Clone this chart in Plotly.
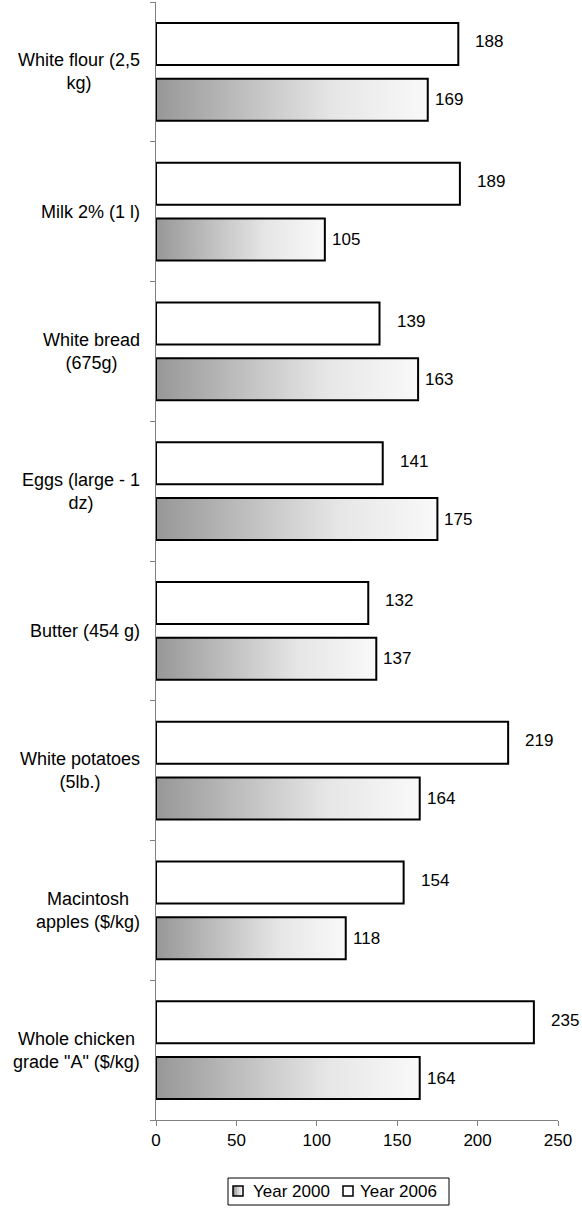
import plotly.graph_objects as go

# Retail food prices, 2000 vs 2006
categories = [
    "White flour (2,5<br>kg)",
    "Milk 2% (1 l)",
    "White bread<br>(675g)",
    "Eggs (large - 1<br>dz)",
    "Butter (454 g)",
    "White potatoes<br>(5lb.)",
    "Macintosh<br>apples ($/kg)",
    'Whole chicken<br>grade "A" ($/kg)',
]
year_2000 = [169, 105, 163, 175, 137, 164, 118, 164]
year_2006 = [188, 189, 139, 141, 132, 219, 154, 235]
x_ticks = [0, 50, 100, 150, 200, 250]
series_names = ["Year 2000", "Year 2006"]

W, H = 582, 1220
M_L, M_R, M_T, M_B = 156, 24, 2, 100
FONT = "Liberation Sans, Arial, sans-serif"
FS = 17
FS_CAT = 18
BAR_W = 0.3
OFFSET = 0.2
AXIS_COL = "#808080"
GRAD = [[0.0, "#979797"], [0.4, "#c8c8c8"], [0.65, "#e6e6e6"], [1.0, "#f9f9f9"]]

n = len(categories)
pos = list(range(n))

fig = go.Figure()

# 2006 bars: plain white with black outline
fig.add_trace(go.Bar(
    name=series_names[1], x=year_2006, y=[p - OFFSET for p in pos],
    orientation="h", width=BAR_W,
    marker=dict(color="white", line=dict(color="black", width=2)),
    showlegend=False,
))

# 2000 bars: closed rectangles with a left-to-right grey gradient,
# one trace per bar so the gradient spans each bar's own length
for i, v in zip(pos, year_2000):
    y0, y1 = i + OFFSET - BAR_W / 2, i + OFFSET + BAR_W / 2
    fig.add_trace(go.Scatter(
        name=series_names[0],
        x=[0, v, v, 0, 0], y=[y0, y0, y1, y1, y0],
        fill="toself", mode="lines",
        line=dict(color="black", width=2),
        fillgradient=dict(type="horizontal", colorscale=GRAD),
        hoverinfo="skip", showlegend=False,
    ))

annotations = []
# category labels, lines centred, block right-aligned next to the axis
for i, c in zip(pos, categories):
    annotations.append(dict(
        x=0, xref="paper", xanchor="right", xshift=-14,
        y=i, yref="y", yanchor="middle",
        text=c, align="center", showarrow=False,
        font=dict(family=FONT, size=FS_CAT, color="black"),
    ))
# value labels
for i, v in zip(pos, year_2006):
    annotations.append(dict(
        x=v, xref="x", xanchor="left", xshift=15, yshift=2,
        y=i - OFFSET, yref="y", yanchor="middle",
        text=str(v), showarrow=False,
        font=dict(family=FONT, size=FS, color="black"),
    ))
for i, v in zip(pos, year_2000):
    annotations.append(dict(
        x=v, xref="x", xanchor="left", xshift=5,
        y=i + OFFSET, yref="y", yanchor="middle",
        text=str(v), showarrow=False,
        font=dict(family=FONT, size=FS, color="black"),
    ))

# legend drawn by hand (pixel positions converted to paper coords)
PW, PH = W - M_L - M_R, H - M_T - M_B


def px(xp):
    return (xp - M_L) / PW


def py(yp):
    return (H - M_B - yp) / PH


shapes = []
shapes.append(dict(type="rect", xref="paper", yref="paper",
                   x0=px(228), x1=px(449), y0=py(1178), y1=py(1205),
                   line=dict(color="black", width=1), fillcolor="white", layer="above"))

# gradient swatch built from thin stripes
stripe_cols = ["#979797", "#b4b4b4", "#cfcfcf", "#e4e4e4", "#f5f5f5"]
sx0, sw = 233, 10
for k, col in enumerate(stripe_cols):
    shapes.append(dict(type="rect", xref="paper", yref="paper",
                       x0=px(sx0 + k * sw / 5), x1=px(sx0 + (k + 1) * sw / 5),
                       y0=py(1186), y1=py(1196),
                       line=dict(width=0), fillcolor=col, layer="above"))
shapes.append(dict(type="rect", xref="paper", yref="paper",
                   x0=px(sx0), x1=px(sx0 + sw), y0=py(1186), y1=py(1196),
                   line=dict(color="black", width=1.5), fillcolor="rgba(0,0,0,0)", layer="above"))
shapes.append(dict(type="rect", xref="paper", yref="paper",
                   x0=px(343), x1=px(353), y0=py(1186), y1=py(1196),
                   line=dict(color="black", width=1.5), fillcolor="white", layer="above"))

for name, xl in zip(series_names, [251, 358]):
    annotations.append(dict(
        x=px(xl), xref="paper", xanchor="left",
        y=py(1191), yref="paper", yanchor="middle",
        text=name, showarrow=False,
        font=dict(family=FONT, size=FS, color="black"),
    ))

fig.update_layout(
    width=W, height=H,
    margin=dict(l=M_L, r=M_R, t=M_T, b=M_B, pad=0),
    paper_bgcolor="white", plot_bgcolor="white",
    font=dict(family=FONT, size=FS, color="black"),
    barmode="overlay",
    showlegend=False,
    xaxis=dict(
        range=[0, 250], tickvals=x_ticks, ticks="outside", ticklen=5,
        tickcolor=AXIS_COL, showline=True, linecolor=AXIS_COL, linewidth=1,
        showgrid=False, zeroline=False, tickfont=dict(family=FONT, size=FS, color="black"),
        fixedrange=True,
    ),
    yaxis=dict(
        range=[n - 0.5, -0.5], tickvals=[k - 0.5 for k in range(n + 1)],
        ticktext=[""] * (n + 1), ticks="outside", ticklen=5, tickcolor=AXIS_COL,
        showline=True, linecolor=AXIS_COL, linewidth=1,
        showgrid=False, zeroline=False, fixedrange=True,
    ),
    annotations=annotations,
    shapes=shapes,
)

fig.write_html("out.html")
